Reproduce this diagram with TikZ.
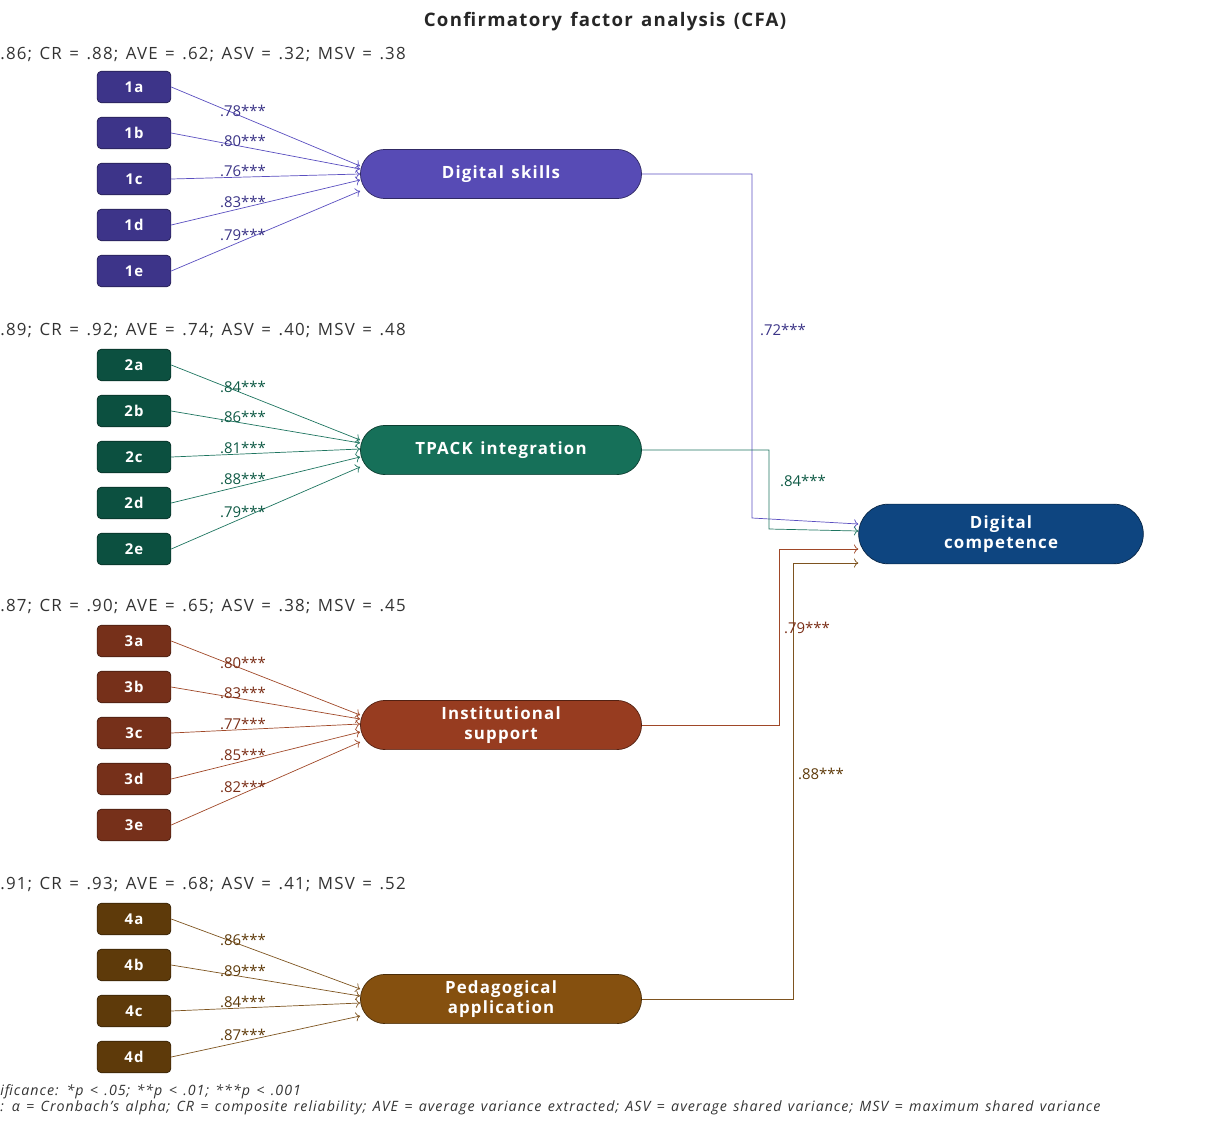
\documentclass[tikz,border=0pt]{standalone}
\usepackage{fontspec}
\setmainfont{Open Sans}[LetterSpace=7, WordSpace=1.35]
\newfontfamily\loadfont{Open Sans}
\usetikzlibrary{arrows.meta,positioning,calc,shapes.misc}

\definecolor{skillbox}{HTML}{3D3489}
\definecolor{skillfill}{HTML}{574BB5}
\definecolor{skillline}{HTML}{5A4FC0}
\definecolor{skilltext}{HTML}{3A3386}
\definecolor{tpackbox}{HTML}{0C5040}
\definecolor{tpackfill}{HTML}{167059}
\definecolor{tpackline}{HTML}{1E7560}
\definecolor{tpacktext}{HTML}{0F5A45}
\definecolor{instbox}{HTML}{76301A}
\definecolor{instfill}{HTML}{973C20}
\definecolor{instline}{HTML}{A04828}
\definecolor{insttext}{HTML}{7A2E17}
\definecolor{pedbox}{HTML}{5E3A0A}
\definecolor{pedfill}{HTML}{85500F}
\definecolor{pedline}{HTML}{7E5420}
\definecolor{pedtext}{HTML}{5E3A0A}
\definecolor{dcfill}{HTML}{0E4580}
\definecolor{stattext}{HTML}{333333}

\tikzset{
  ind/.style={draw=#1!60!black, fill=#1, rounded corners=2.5pt, minimum width=42pt,
    minimum height=18pt, inner sep=0pt, text=white, font=\bfseries\fontsize{8.5}{10}\selectfont},
  lat/.style={rounded rectangle, draw=#1!55!black, fill=#1, minimum width=162pt,
    minimum height=28pt, inner sep=1pt, align=center, text=white,
    font=\bfseries\fontsize{9.6}{11.2}\selectfont},
  load/.style={pos=0.38, above=-1pt, inner sep=1pt, text=#1, font=\loadfont\fontsize{8.5}{10}\selectfont},
  stats/.style={anchor=west, inner sep=0pt, text=stattext, font=\fontsize{9.6}{11}\selectfont},
  note/.style={anchor=west, inner sep=0pt, text=stattext, font=\itshape\fontsize{8.1}{9}\selectfont}
}

\begin{document}
\begin{tikzpicture}[x=0.02cm, y=-0.02cm]
  \useasboundingbox (0,0) rectangle (1228,1126);

  \node[font=\bfseries\fontsize{10.6}{12}\selectfont, text=black!85] (title) at (605,22) {Confirmatory factor analysis (CFA)};

  % latent factors
  \node[lat=skillfill] (ds) at (501,174) {Digital skills};
  \node[lat=tpackfill] (tp) at (501,450) {TPACK integration};
  \node[lat=instfill] (is) at (501,725) {Institutional\\support};
  \node[lat=pedfill] (pa) at (501,999) {Pedagogical\\application};
  \node[lat=dcfill, minimum width=164pt, minimum height=34pt] (dc) at (1001,534) {Digital\\competence};

  % reliability lines
  \node[stats] (st1) at (0,54) {.86; CR = .88; AVE = .62; ASV = .32; MSV = .38};
  \node[stats] (st2) at (0,330) {.89; CR = .92; AVE = .74; ASV = .40; MSV = .48};
  \node[stats] (st3) at (0,606) {.87; CR = .90; AVE = .65; ASV = .38; MSV = .45};
  \node[stats] (st4) at (0,884) {.91; CR = .93; AVE = .68; ASV = .41; MSV = .52};

  % indicators of digital skills
  \foreach \i/\v/\dy [count=\k from 0] in {a/.78/-8, b/.80/-5, c/.76/0, d/.83/6, e/.79/17} {
    \node[ind=skillbox] (1\i) at (134,87+46*\k) {1\i};
    \draw[skillline, ->] (1\i.east) -- ($(ds.west)+(0,\dy)$) node[load=skilltext] {\v***};
  }
  % indicators of TPACK integration
  \foreach \i/\v/\dy [count=\k from 0] in {a/.84/-10, b/.86/-7, c/.81/-1, d/.88/7, e/.79/17} {
    \node[ind=tpackbox] (2\i) at (134,365+46*\k) {2\i};
    \draw[tpackline, ->] (2\i.east) -- ($(tp.west)+(0,\dy)$) node[load=tpacktext] {\v***};
  }
  % indicators of institutional support
  \foreach \i/\v/\dy [count=\k from 0] in {a/.80/-10, b/.83/-6, c/.77/-1, d/.85/7, e/.82/17} {
    \node[ind=instbox] (3\i) at (134,641+46*\k) {3\i};
    \draw[instline, ->] (3\i.east) -- ($(is.west)+(0,\dy)$) node[load=insttext] {\v***};
  }
  % indicators of pedagogical application
  \foreach \i/\v/\dy [count=\k from 0] in {a/.86/-10, b/.89/-3, c/.84/4, d/.87/17} {
    \node[ind=pedbox] (4\i) at (134,919+46*\k) {4\i};
    \draw[pedline, ->] (4\i.east) -- ($(pa.west)+(0,\dy)$) node[load=pedtext] {\v***};
  }

  % second order paths
  \draw[skillline, ->] (ds.east) -| (752,518) -- ($(dc.west)+(0,-10)$);
  \draw[tpackline, ->] (tp.east) -| (769,529) -- ($(dc.west)+(0,-3)$);
  \draw[instline, ->] (is.east) -| (779,549) -- ($(dc.west)+(0,15)$);
  \draw[pedline, ->] (pa.east) -| (793,563) -- ($(dc.west)+(0,29)$);
  \node[text=skilltext, font=\loadfont\fontsize{8.5}{10}\selectfont] (l1) at (783,330) {.72***};
  \node[text=tpacktext, font=\loadfont\fontsize{8.5}{10}\selectfont] (l2) at (803,481) {.84***};
  \node[text=insttext, font=\loadfont\fontsize{8.5}{10}\selectfont] (l3) at (807,628) {.79***};
  \node[text=pedtext, font=\loadfont\fontsize{8.5}{10}\selectfont] (l4) at (821,774) {.88***};

  % notes
  \node[note] (n1) at (0,1092) {ificance: *p < .05; **p < .01; ***p < .001};
  \node[note] (n2) at (0,1108) {: α = Cronbach's alpha; CR = composite reliability; AVE = average variance extracted; ASV = average shared variance; MSV = maximum shared variance};
\end{tikzpicture}
\end{document}
